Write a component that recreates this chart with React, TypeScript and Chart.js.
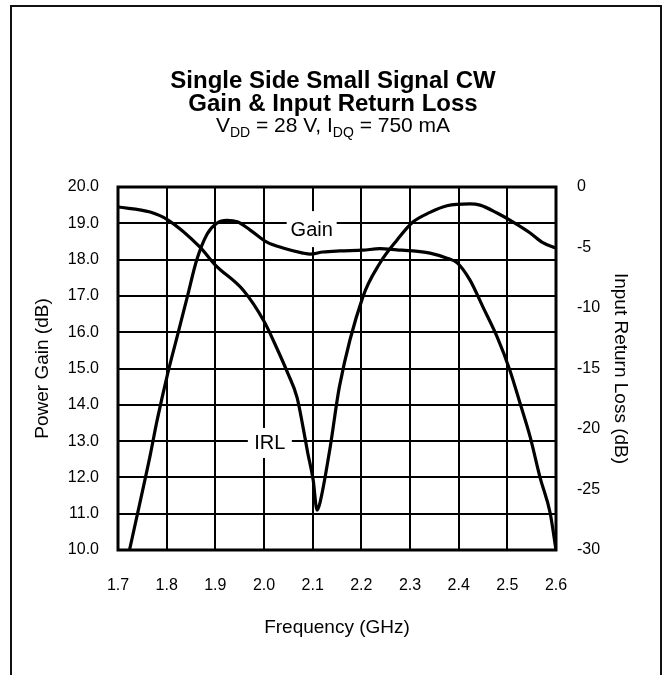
import React, { useEffect, useRef } from "react";
import { Chart, registerables } from "chart.js";

Chart.register(...registerables);

const FONT = "'Liberation Sans', Arial, Helvetica, sans-serif";

const titleLines = ["Single Side Small Signal CW", "Gain & Input Return Loss"];
const subtitleParts = ["V", "DD", " = 28 V, I", "DQ", " = 750 mA"];
const subtitleIsSub = [false, true, false, true, false];

const freqTicks = [1.7, 1.8, 1.9, 2.0, 2.1, 2.2, 2.3, 2.4, 2.5, 2.6];
const gainTicks = [10, 11, 12, 13, 14, 15, 16, 17, 18, 19, 20];
const irlTicks = [-30, -25, -20, -15, -10, -5, 0];

const gainFreq = [
  1.722, 1.745, 1.766, 1.78, 1.801, 1.821, 1.842, 1.862, 1.883, 1.903, 1.924,
  1.945, 1.971, 2.006, 2.039, 2.08, 2.095, 2.121, 2.156, 2.203, 2.238, 2.273,
  2.306, 2.341, 2.376, 2.397, 2.423, 2.45, 2.479, 2.505, 2.526, 2.547, 2.567,
  2.588, 2.6,
];
const gainDb = [
  9.9, 11.3, 12.6, 13.55, 14.8, 15.85, 16.95, 18.0, 18.7, 19.0, 19.08, 19.04,
  18.82, 18.48, 18.32, 18.18, 18.15, 18.21, 18.24, 18.26, 18.3, 18.27, 18.24,
  18.18, 18.04, 17.91, 17.44, 16.69, 15.87, 14.96, 14.05, 13.11, 12.01, 11.02,
  10.0,
];

const irlFreq = [
  1.7, 1.766, 1.803, 1.868, 1.9, 1.957, 2.0, 2.025, 2.049, 2.068, 2.08, 2.09,
  2.101, 2.109, 2.115, 2.136, 2.155, 2.203, 2.238, 2.273, 2.306, 2.341, 2.376,
  2.423, 2.444, 2.479, 2.512, 2.547, 2.573, 2.6,
];
const irlDb = [
  -1.65, -2.07, -2.73, -4.95, -6.45, -8.52, -11.1, -13.2, -15.4, -17.4, -19.8,
  -22.0, -24.2, -26.7, -26.1, -21.5, -16.5, -9.1, -6.3, -4.4, -2.9, -2.1, -1.55,
  -1.4, -1.5, -2.15, -2.9, -3.8, -4.6, -5.05,
];

const curveLabels = ["Gain", "IRL"];
const curveLabelFreq = [2.098, 2.012];
const curveLabelGain = [18.84, 12.95];
const curveLabelBoxW = [50, 44];
const curveLabelBoxH = [36, 30];

const framePlugin = {
  id: "frame",
  beforeDraw(chart: any) {
    const ctx = chart.ctx;
    ctx.save();
    ctx.fillStyle = "#fff";
    ctx.fillRect(0, 0, chart.width, chart.height);
    ctx.strokeStyle = "#111";
    ctx.lineWidth = 2;
    ctx.strokeRect(11, 6, 650, 720);
    ctx.restore();
  },
};

const boxPlugin = {
  id: "plotbox",
  beforeDatasetsDraw(chart: any) {
    const { ctx, chartArea, scales } = chart;
    ctx.save();
    for (let i = 0; i < curveLabels.length; i++) {
      const cx = scales.x.getPixelForValue(curveLabelFreq[i]);
      const cy = scales.y.getPixelForValue(curveLabelGain[i]);
      ctx.fillStyle = "#fff";
      ctx.fillRect(
        cx - curveLabelBoxW[i] / 2,
        cy - curveLabelBoxH[i] / 2,
        curveLabelBoxW[i],
        curveLabelBoxH[i]
      );
      ctx.fillStyle = "#000";
      ctx.font = `20px ${FONT}`;
      ctx.textAlign = "center";
      ctx.textBaseline = "middle";
      ctx.fillText(curveLabels[i], cx, cy + 1);
    }
    ctx.strokeStyle = "#000";
    ctx.lineWidth = 3;
    ctx.strokeRect(
      chartArea.left,
      chartArea.top,
      chartArea.right - chartArea.left,
      chartArea.bottom - chartArea.top
    );
    ctx.restore();
  },
};

const titlePlugin = {
  id: "titles",
  afterDraw(chart: any) {
    const ctx = chart.ctx;
    ctx.save();
    ctx.fillStyle = "#000";
    ctx.textBaseline = "alphabetic";
    ctx.textAlign = "center";
    ctx.font = `bold 24px ${FONT}`;
    ctx.fillText(titleLines[0], 333, 88);
    ctx.fillText(titleLines[1], 333, 111);
    const mainFont = `21px ${FONT}`;
    const subFont = `14px ${FONT}`;
    ctx.textAlign = "left";
    let total = 0;
    const widths: number[] = [];
    for (let i = 0; i < subtitleParts.length; i++) {
      ctx.font = subtitleIsSub[i] ? subFont : mainFont;
      const w = ctx.measureText(subtitleParts[i]).width;
      widths.push(w);
      total += w;
    }
    let x = 333 - total / 2;
    for (let i = 0; i < subtitleParts.length; i++) {
      ctx.font = subtitleIsSub[i] ? subFont : mainFont;
      ctx.fillText(subtitleParts[i], x, subtitleIsSub[i] ? 137 : 132);
      x += widths[i];
    }
    ctx.restore();
  },
};

export default function App() {
  const ref = useRef<HTMLCanvasElement | null>(null);

  useEffect(() => {
    if (!ref.current) return;
    const chart = new Chart(ref.current, {
      type: "line",
      data: {
        datasets: [
          {
            label: "Gain",
            data: gainFreq.map((f, i) => ({ x: f, y: gainDb[i] })),
            yAxisID: "y",
            borderColor: "#000",
            borderWidth: 3.2,
            pointRadius: 0,
            cubicInterpolationMode: "monotone",
            fill: false,
          },
          {
            label: "IRL",
            data: irlFreq.map((f, i) => ({ x: f, y: irlDb[i] })),
            yAxisID: "y1",
            borderColor: "#000",
            borderWidth: 3.2,
            pointRadius: 0,
            cubicInterpolationMode: "monotone",
            fill: false,
          },
        ],
      },
      options: {
        responsive: false,
        animation: false,
        devicePixelRatio: 1,
        layout: { padding: { top: 187, left: 0, right: 0, bottom: 0 } },
        plugins: {
          legend: { display: false },
          tooltip: { enabled: false },
          title: { display: false },
        },
        scales: {
          x: {
            type: "linear",
            min: 1.7,
            max: 2.6,
            afterBuildTicks: (s: any) => {
              s.ticks = freqTicks.map((v) => ({ value: v }));
            },
            afterFit: (s: any) => {
              s.height = 125;
            },
            grid: { color: "#000", lineWidth: 2, drawTicks: false },
            border: { display: false },
            ticks: {
              color: "#000",
              font: { family: FONT, size: 16 },
              padding: 26,
              maxRotation: 0,
              autoSkip: false,
              callback: (v: any) => Number(v).toFixed(1),
            },
            title: {
              display: true,
              text: "Frequency (GHz)",
              color: "#000",
              font: { family: FONT, size: 19 },
              padding: { top: 0, bottom: 36 },
            },
          },
          y: {
            type: "linear",
            position: "left",
            min: 10,
            max: 20,
            afterBuildTicks: (s: any) => {
              s.ticks = gainTicks.map((v) => ({ value: v }));
            },
            afterFit: (s: any) => {
              s.width = 118;
            },
            grid: { color: "#000", lineWidth: 2, drawTicks: false },
            border: { display: false },
            ticks: {
              color: "#000",
              font: { family: FONT, size: 16 },
              padding: 19,
              callback: (v: any) => Number(v).toFixed(1),
            },
            title: {
              display: true,
              text: "Power Gain (dB)",
              color: "#000",
              font: { family: FONT, size: 19 },
              padding: { top: 31, bottom: 0 },
            },
          },
          y1: {
            type: "linear",
            position: "right",
            min: -30,
            max: 0,
            afterBuildTicks: (s: any) => {
              s.ticks = irlTicks.map((v) => ({ value: v }));
            },
            afterFit: (s: any) => {
              s.width = 110;
            },
            grid: { display: false, drawTicks: false },
            border: { display: false },
            ticks: {
              color: "#000",
              font: { family: FONT, size: 16 },
              padding: 21,
              callback: (v: any) => String(v),
            },
            title: {
              display: true,
              text: "Input Return Loss (dB)",
              color: "#000",
              font: { family: FONT, size: 19 },
              padding: { top: 34, bottom: 0 },
            },
          },
        },
      },
      plugins: [framePlugin, boxPlugin, titlePlugin],
    } as any);
    return () => chart.destroy();
  }, []);

  return (
    <div style={{ position: "absolute", left: 0, top: 0, width: 666, height: 675 }}>
      <canvas ref={ref} width={666} height={675} style={{ width: 666, height: 675, display: "block" }} />
    </div>
  );
}
